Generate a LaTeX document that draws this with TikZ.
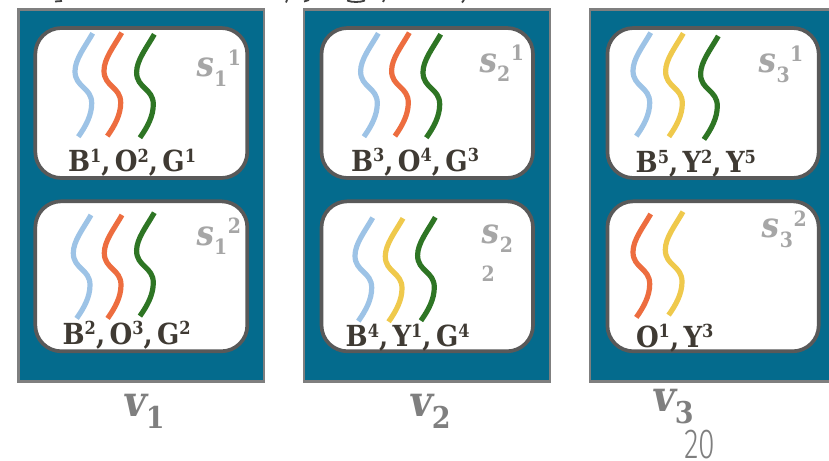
\documentclass[tikz,border=0pt]{standalone}
\usepackage{fontspec}
\setmainfont[BoldFeatures={}]{DejaVu Serif Condensed}
\newfontfamily\mathish[BoldFeatures={FakeSlant=.14}]{DejaVu Serif Condensed}
\newfontfamily\thinfont{Fira Sans Light}
\definecolor{tealfill}{HTML}{046B8D}
\definecolor{outeredge}{HTML}{7F7F7F}
\definecolor{inneredge}{HTML}{595959}
\definecolor{wblue}{HTML}{9DC3E6}
\definecolor{worange}{HTML}{ED6D3F}
\definecolor{wgreen}{HTML}{2E7524}
\definecolor{wyellow}{HTML}{EFC94C}
\definecolor{labeldark}{HTML}{3F3A33}
\definecolor{slabel}{HTML}{A6A6A6}
\newcommand{\fsz}[1]{\fontsize{#1}{#1}\selectfont}
\newcommand{\up}[1]{\raisebox{9.5pt}{\fsz{18}#1}}
\newcommand{\sepr}{,\kern4.5pt}
\newcommand{\snm}[3]{{\mathish\fsz{35}s}\kern1.5pt\raisebox{-9.5pt}{\fsz{21}#1}\kern#3\raisebox{11.5pt}{\fsz{21}#2}}
\newcommand{\vnm}[1]{{\mathish\fsz{43}v}\kern1.5pt\raisebox{-12pt}{\fsz{30}#1}}
\tikzset{
  host/.style={draw=outeredge,line width=2.7pt,fill=tealfill},
  panel/.style={draw=inneredge,line width=3.7pt,fill=white,rounded corners=26pt},
  strand/.style={line width=5.2pt},
  lab/.style={anchor=base west,inner sep=0pt,outer sep=0pt,text=labeldark,font=\fsz{29}\bfseries},
  slab/.style={anchor=base west,inner sep=0pt,outer sep=0pt,text=slabel,font=\bfseries},
  vlab/.style={anchor=base west,inner sep=0pt,outer sep=0pt,text=outeredge,font=\bfseries},
  cut/.style={draw=black!75,line width=1.8pt},
  pics/wave/.style={code={
    \draw[strand,#1] (0,0) .. controls (-8,14) and (-17.7,26) .. (-17.7,38)
      .. controls (-17.7,54) and (-1,54) .. (-1,70)
      .. controls (-1,82) and (-7,93) .. (-14.4,103.4);
  }}
}
\begin{document}
\begin{tikzpicture}[x=1pt,y=-1pt]
\useasboundingbox (0,0) rectangle (829,460);
\clip (0,0) rectangle (829,460);
% cropped line of text at the top edge
\draw[cut] (55,1.5) -- (62,1);
\draw[cut] (287,0) -- (286,2.5);
\draw[cut] (304,1.5) -- (309,0);
\draw[cut] (347,0.5) .. controls (352,2.5) and (360,2.5) .. (365,0.5);
\draw[cut] (384,0) -- (383,2);
\draw[cut] (464,0) -- (462,2.5);
% hosts
\draw[host] (18.7,9.7) rectangle (264,381.3);
\draw[host] (304,9.7) rectangle (550,381.3);
\draw[host] (590,9.7) rectangle (850,381.3);
% panels
\draw[panel] (35.3,28) rectangle (247.3,178);
\draw[panel] (35.3,201.3) rectangle (247.3,351.3);
\draw[panel] (321.5,28) rectangle (533,178);
\draw[panel] (321.5,201.3) rectangle (533,351.3);
\draw[panel] (607.4,28) rectangle (818.7,178);
\draw[panel] (607.4,201.3) rectangle (818.7,351.3);
% strands
\pic at (92.7,33.3) {wave=wblue};
\pic at (121.7,32.7) {wave=worange};
\pic at (154.3,34.3) {wave=wgreen};
\pic at (91,215) {wave=wblue};
\pic at (122,215) {wave=worange};
\pic at (154.3,212.7) {wave=wgreen};
\pic at (378.3,33.3) {wave=wblue};
\pic at (409.3,32.7) {wave=worange};
\pic at (440.7,34.3) {wave=wgreen};
\pic at (372.7,217.7) {wave=wblue};
\pic at (403,218.3) {wave=wyellow};
\pic at (435.3,217.3) {wave=wgreen};
\pic at (650.7,32.7) {wave=wblue};
\pic at (683.3,33.3) {wave=wyellow};
\pic at (718.3,36) {wave=wgreen};
\pic at (650.7,214) {wave=worange};
\pic at (683,211.7) {wave=wyellow};
% strand labels
\node[lab] (l11) at (68,171.7) {B\up{1}\sepr O\up{2}\sepr G\up{1}};
\node[lab] (l12) at (62.7,344) {B\up{2}\sepr O\up{3}\sepr G\up{2}};
\node[lab] (l21) at (351,171) {B\up{3}\sepr O\up{4}\sepr G\up{3}};
\node[lab] (l22) at (345.7,346.7) {B\up{4}\sepr Y\up{1}\sepr G\up{4}};
\node[lab] (l31) at (635.7,172.7) {B\up{5}\sepr Y\up{2}\sepr Y\up{5}};
\node[lab] (l32) at (636,347) {O\up{1}\sepr Y\up{3}};
% set labels
\node[slab] (s11) at (195,77) {\snm{1}{1}{0.5pt}};
\node[slab] (s12) at (195,245) {\snm{1}{2}{0.5pt}};
\node[slab] (s21) at (478,72.3) {\snm{2}{1}{0.5pt}};
\node[slab] (s22) at (480.7,243.3) {{\mathish\fsz{35}s}\kern1.5pt\raisebox{-9.5pt}{\fsz{21}2}};
\node[slab,font=\fsz{21}\bfseries] (s22b) at (481.7,281.7) {2};
\node[slab] (s31) at (757.3,72.7) {\snm{3}{1}{0.5pt}};
\node[slab] (s32) at (760.7,237.7) {\snm{3}{2}{0.5pt}};
% host labels
\node[vlab] (v1) at (122,416) {\vnm{1}};
\node[vlab] (v2) at (408,416.7) {\vnm{2}};
\node[vlab] (v3) at (651,411.7) {\vnm{3}};
% page number
\node[anchor=base west,inner sep=0pt,text=outeredge,xscale=.72] (pg) at (684,458.5) {\thinfont\fsz{42}20};
\end{tikzpicture}
\end{document}
